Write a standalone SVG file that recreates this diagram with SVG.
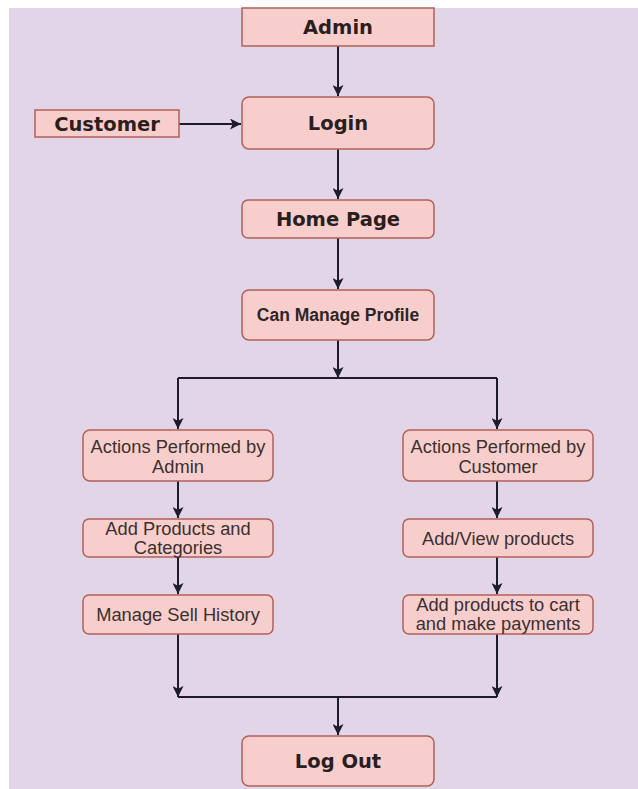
<svg xmlns="http://www.w3.org/2000/svg" width="638" height="789" viewBox="0 0 638 789">
<defs>
<marker id="ah" viewBox="0 0 10 10" refX="10" refY="5" markerWidth="11" markerHeight="11" markerUnits="userSpaceOnUse" orient="auto">
<path d="M0,0 L10,5 L0,10 L2.5,5 z" fill="#1c1c2a"/>
</marker>
<style>
.n{fill:#f8cecc;stroke:#b0605b;stroke-width:1.5}
.b{font-family:"DejaVu Sans",sans-serif;font-weight:bold;font-size:19.5px;fill:#2a1e1e;text-anchor:middle}
.m{font-family:"Liberation Sans",Arial,sans-serif;font-weight:bold;font-size:17.5px;fill:#2e2626;text-anchor:middle}
.t{font-family:"Liberation Sans",Arial,sans-serif;font-size:18.3px;fill:#3a3030;text-anchor:middle}
.c{fill:none;stroke:#1c1c2a;stroke-width:2}
</style>
</defs>
<rect x="0" y="0" width="638" height="789" fill="#ffffff"/>
<rect x="9" y="8" width="629" height="781" fill="#e1d5e7"/>
<g id="connectors">
<path class="c" d="M338,46 V96" marker-end="url(#ah)"/>
<path class="c" d="M179,124 H241" marker-end="url(#ah)"/>
<path class="c" d="M338,149 V199" marker-end="url(#ah)"/>
<path class="c" d="M338,238 V289" marker-end="url(#ah)"/>
<path class="c" d="M338,340 V378" marker-end="url(#ah)"/>
<path class="c" d="M178,378 H497"/>
<path class="c" d="M178,378 V429" marker-end="url(#ah)"/>
<path class="c" d="M497,378 V429" marker-end="url(#ah)"/>
<path class="c" d="M178,481 V518" marker-end="url(#ah)"/>
<path class="c" d="M178,557 V594" marker-end="url(#ah)"/>
<path class="c" d="M497,481 V518" marker-end="url(#ah)"/>
<path class="c" d="M497,557 V594" marker-end="url(#ah)"/>
<path class="c" d="M178,634 V697" marker-end="url(#ah)"/>
<path class="c" d="M497,634 V697" marker-end="url(#ah)"/>
<path class="c" d="M178,697 H497"/>
<path class="c" d="M338,697 V735" marker-end="url(#ah)"/>
</g>
<g id="admin"><rect class="n" x="242" y="8" width="192" height="38"/><text class="b" x="338" y="34">Admin</text></g>
<g id="customer"><rect class="n" x="35" y="110" width="144" height="27"/><text class="b" x="107" y="130.5">Customer</text></g>
<g id="login"><rect class="n" x="242" y="97" width="192" height="52" rx="7"/><text class="b" x="338" y="130">Login</text></g>
<g id="home"><rect class="n" x="242" y="200" width="192" height="38" rx="6"/><text class="b" x="338" y="226">Home Page</text></g>
<g id="profile"><rect class="n" x="242" y="290" width="192" height="50" rx="7"/><text class="m" x="338" y="321">Can Manage Profile</text></g>
<g id="act-admin"><rect class="n" x="83" y="430" width="190" height="51" rx="7"/><text class="t" x="178" y="452.5">Actions Performed by</text><text class="t" x="178" y="472.5">Admin</text></g>
<g id="add-products"><rect class="n" x="83" y="519" width="190" height="38" rx="6"/><text class="t" x="178" y="535">Add Products and</text><text class="t" x="178" y="554">Categories</text></g>
<g id="sell-history"><rect class="n" x="83" y="595" width="190" height="39" rx="6"/><text class="t" x="178" y="620.5">Manage Sell History</text></g>
<g id="act-customer"><rect class="n" x="403" y="430" width="190" height="51" rx="7"/><text class="t" x="498" y="452.5">Actions Performed by</text><text class="t" x="498" y="472.5">Customer</text></g>
<g id="view-products"><rect class="n" x="403" y="519" width="190" height="38" rx="6"/><text class="t" x="498" y="544.5">Add/View products</text></g>
<g id="cart"><rect class="n" x="403" y="595" width="190" height="39" rx="6"/><text class="t" x="498" y="611">Add products to cart</text><text class="t" x="498" y="630">and make payments</text></g>
<g id="logout"><rect class="n" x="242" y="736" width="192" height="50" rx="7"/><text class="b" x="338" y="768">Log Out</text></g>
</svg>
